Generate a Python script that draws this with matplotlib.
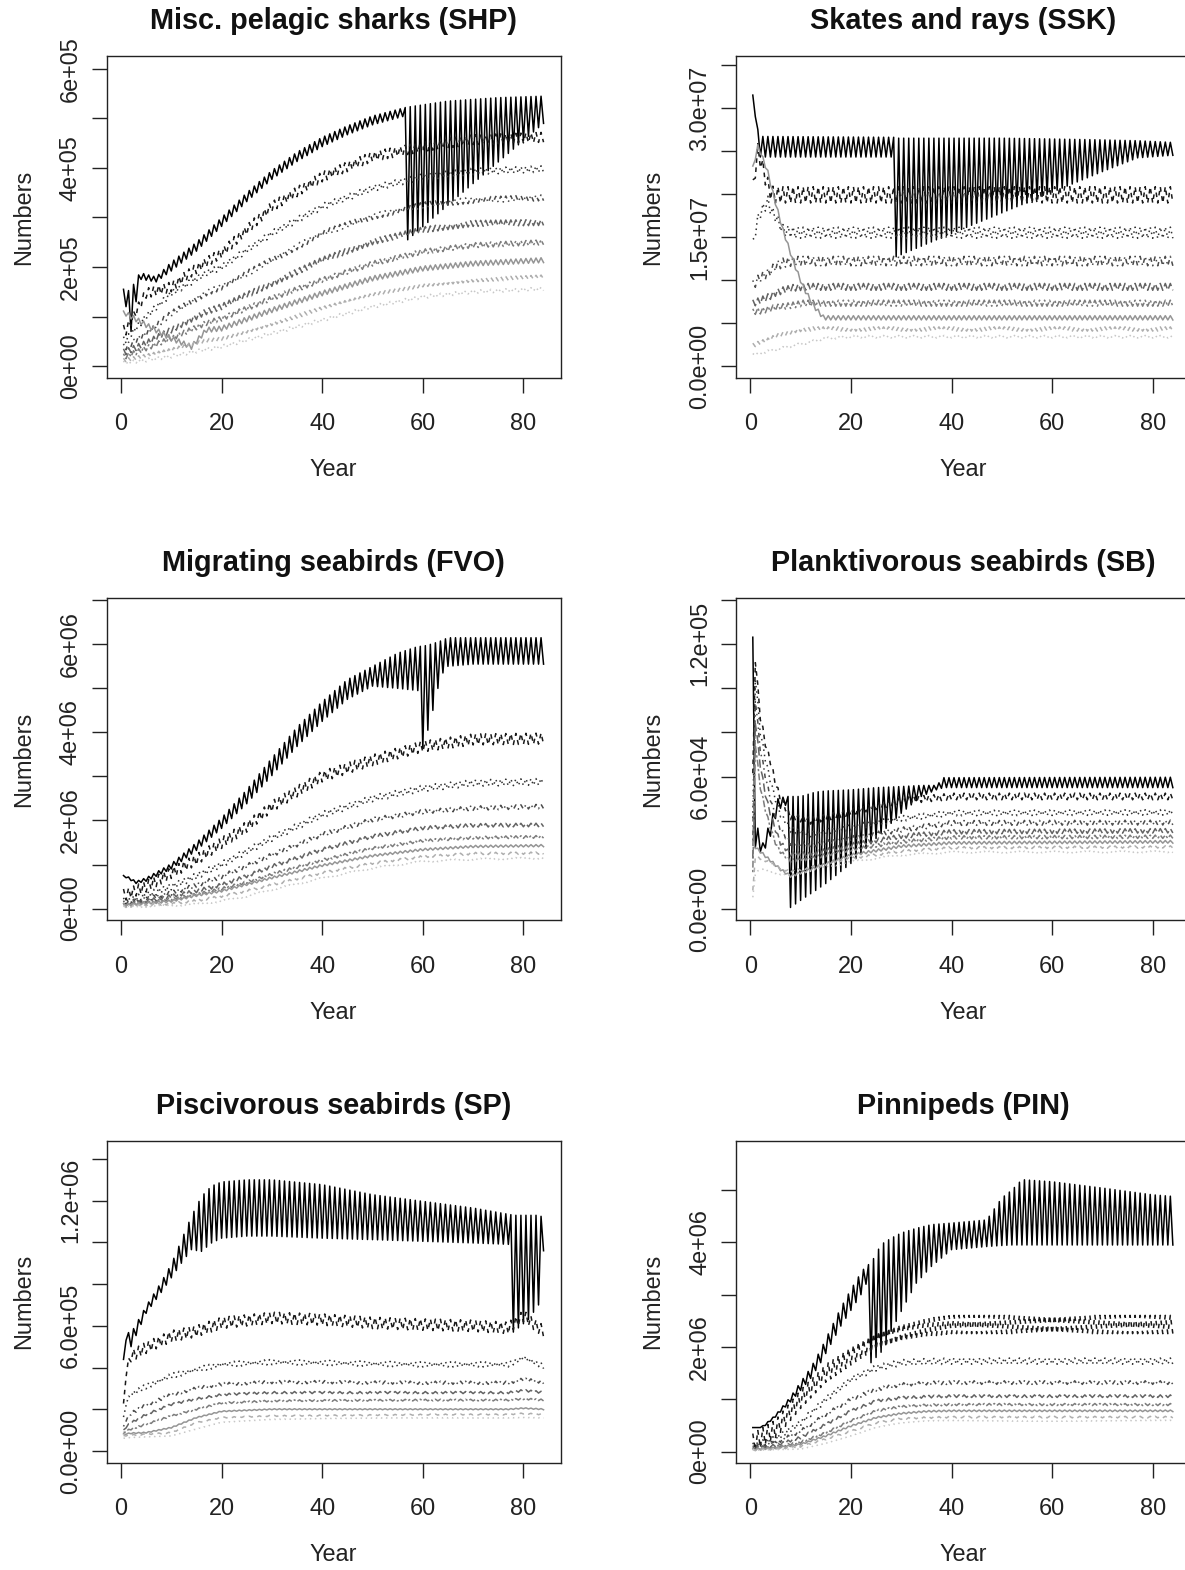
import numpy as np
import matplotlib
matplotlib.use("Agg")
import matplotlib.pyplot as plt

plt.rcParams["font.family"] = ["Liberation Sans", "DejaVu Sans"]

# model output every half year: peaks on the half years, troughs on whole years
STEP_YEAR = 0.5 * np.arange(1, 169)

# ── Misc. pelagic sharks (SHP), numbers in 1e5 ────────────────────────────────
SHP_TOP_YR = [1, 2, 3, 4, 7, 10, 15, 20, 25, 30, 35, 40, 45, 50, 56.5, 57, 65, 75, 84]
SHP_TOP_HI = [1.55, 1.5, 1.8, 1.88, 1.8, 2.1, 2.5, 3.0, 3.5, 3.95, 4.32, 4.62, 4.85, 5.05, 5.22, 5.23, 5.35, 5.42, 5.45]
SHP_TOP_LO = [1.2, 0.7, 1.3, 1.75, 1.7, 1.92, 2.32, 2.82, 3.32, 3.77, 4.13, 4.43, 4.67, 4.87, 5.05, 2.55, 3.25, 4.12, 4.9]
SHP_YR = [1, 5, 10, 14, 17, 20, 30, 40, 50, 60, 70, 84]
SHP_MID = [
    [0.73, 1.47, 1.6, 1.9, 2.1, 2.28, 3.22, 3.82, 4.23, 4.43, 4.57, 4.62],
    [0.53, 1.0, 1.47, 1.7, 1.88, 2.0, 2.68, 3.22, 3.59, 3.82, 3.93, 3.98],
    [0.39, 0.66, 1.06, 1.3, 1.48, 1.6, 2.14, 2.68, 3.02, 3.25, 3.35, 3.4],
    [0.29, 0.46, 0.73, 0.95, 1.1, 1.2, 1.67, 2.14, 2.51, 2.75, 2.88, 2.9],
    [0.2, 0.36, 0.56, 0.74, 0.87, 0.96, 1.37, 1.74, 2.07, 2.31, 2.44, 2.5],
    [1.06, 0.83, 0.56, 0.39, 0.73, 0.76, 1.13, 1.47, 1.77, 1.97, 2.07, 2.14],
    [0.12, 0.2, 0.32, 0.43, 0.51, 0.56, 0.86, 1.16, 1.43, 1.64, 1.74, 1.8],
    [0.07, 0.12, 0.2, 0.28, 0.34, 0.39, 0.66, 0.93, 1.2, 1.4, 1.5, 1.56],
]
SHP_SWING = [0.2, 0.13, 0.12, 0.12, 0.1, 0.1, 0.08, 0.07]

# ── Skates and rays (SSK), numbers in 1e7 ─────────────────────────────────────
SSK_TOP_YR = [0.5, 1, 1.5, 2, 28.5, 29, 40, 50, 60, 70, 77, 84]
SSK_TOP_HI = [3.15, 2.95, 2.75, 2.67, 2.66, 2.65, 2.65, 2.65, 2.64, 2.63, 2.62, 2.6]
SSK_TOP_LO = [3.15, 2.9, 2.6, 2.43, 2.43, 1.27, 1.54, 1.78, 2.02, 2.26, 2.42, 2.45]
SSK_YR = [0.5, 1.5, 2, 3.5, 4.2, 5, 6.5, 8.7, 10.5, 12.7, 14.6, 20, 84]
SSK_MID = [
    [2.07, 2.49, 2.4, 2.1, 2.0, 1.99, 1.99, 1.99, 1.99, 1.99, 1.99, 1.99, 1.99],
    [1.41, 1.7, 1.78, 1.91, 1.8, 1.74, 1.58, 1.55, 1.55, 1.55, 1.55, 1.55, 1.55],
    [0.94, 1.0, 1.03, 1.08, 1.11, 1.16, 1.2, 1.22, 1.22, 1.22, 1.22, 1.22, 1.22],
    [0.73, 0.75, 0.76, 0.8, 0.82, 0.85, 0.88, 0.91, 0.92, 0.92, 0.92, 0.92, 0.92],
    [0.63, 0.64, 0.64, 0.66, 0.67, 0.68, 0.69, 0.71, 0.73, 0.73, 0.73, 0.73, 0.73],
    [2.3, 2.55, 2.49, 2.25, 2.08, 1.9, 1.58, 1.19, 0.92, 0.69, 0.56, 0.56, 0.56],
    [0.24, 0.26, 0.27, 0.3, 0.32, 0.34, 0.37, 0.41, 0.43, 0.43, 0.43, 0.43, 0.43],
    [0.13, 0.14, 0.15, 0.17, 0.18, 0.19, 0.21, 0.24, 0.26, 0.29, 0.32, 0.34, 0.34],
]
SSK_SWING = [0.19, 0.13, 0.11, 0.08, 0.07, 0.05, 0.05, 0.03]

# ── Migrating seabirds (FVO), numbers in 1e6 ──────────────────────────────────
FVO_TOP_YR = [1, 3, 5, 10, 15, 20, 25, 30, 35, 40, 45, 50, 55, 59, 60, 61, 62, 63, 64, 65, 70, 84]
FVO_TOP_HI = [0.75, 0.62, 0.7, 1.02, 1.5, 2.06, 2.7, 3.42, 4.12, 4.7, 5.2, 5.5, 5.8, 5.95, 5.96, 5.98, 6.02, 6.05, 6.1, 6.15, 6.15, 6.15]
FVO_TOP_LO = [0.7, 0.57, 0.62, 0.9, 1.32, 1.82, 2.38, 3.02, 3.68, 4.25, 4.75, 5.05, 5.0, 4.95, 3.64, 4.05, 4.5, 5.0, 5.35, 5.5, 5.55, 5.55]
FVO_YR = [1, 5, 10, 15, 20, 25, 30, 40, 50, 60, 70, 84]
FVO_MID = [
    [0.32, 0.5, 0.81, 1.11, 1.49, 1.86, 2.32, 3.0, 3.37, 3.68, 3.84, 3.86],
    [0.17, 0.3, 0.5, 0.74, 1.0, 1.3, 1.6, 2.13, 2.5, 2.73, 2.85, 2.88],
    [0.13, 0.22, 0.35, 0.53, 0.73, 0.97, 1.22, 1.68, 2.02, 2.2, 2.28, 2.32],
    [0.09, 0.17, 0.28, 0.4, 0.54, 0.74, 0.96, 1.34, 1.64, 1.83, 1.89, 1.9],
    [0.08, 0.13, 0.22, 0.32, 0.45, 0.6, 0.78, 1.1, 1.37, 1.54, 1.61, 1.63],
    [0.09, 0.12, 0.17, 0.3, 0.4, 0.55, 0.7, 0.98, 1.2, 1.34, 1.41, 1.43],
    [0.05, 0.08, 0.11, 0.18, 0.28, 0.4, 0.54, 0.81, 1.03, 1.18, 1.25, 1.26],
    [0.04, 0.05, 0.07, 0.1, 0.17, 0.28, 0.43, 0.69, 0.92, 1.07, 1.12, 1.15],
]
FVO_SWING = [0.25, 0.15, 0.1, 0.08, 0.06, 0.05, 0.05, 0.04]

# ── Planktivorous seabirds (SB), numbers in 1e4 ───────────────────────────────
SB_TOP_YR = [0.5, 1, 2.5, 4, 5.5, 7, 7.5, 10, 13, 15, 20, 25, 30, 34, 37, 38.5, 84]
SB_TOP_HI = [12.3, 4.0, 3.0, 4.0, 5.0, 5.1, 5.1, 5.1, 5.3, 5.35, 5.4, 5.5, 5.55, 5.6, 5.6, 5.95, 5.97]
SB_TOP_LO = [12.3, 2.8, 2.5, 3.3, 4.5, 4.7, 0.0, 0.4, 0.85, 1.16, 2.07, 3.2, 4.34, 5.1, 5.4, 5.5, 5.5]
SB_YR = [0.5, 1, 2, 3, 4, 5, 6, 8, 12, 20, 30, 40, 84]
SB_MID = [
    [6.0, 11.3, 8.7, 7.5, 6.7, 5.7, 5.0, 4.2, 4.0, 4.4, 4.9, 5.1, 5.1],
    [4.0, 10.5, 8.0, 6.8, 5.8, 5.0, 4.3, 3.6, 3.4, 3.7, 4.1, 4.35, 4.38],
    [3.0, 9.5, 7.2, 6.0, 5.0, 4.2, 3.6, 3.0, 2.9, 3.2, 3.6, 3.9, 3.92],
    [2.2, 8.5, 6.5, 5.2, 4.3, 3.6, 3.0, 2.5, 2.5, 2.9, 3.3, 3.5, 3.55],
    [1.6, 7.5, 5.5, 4.5, 3.7, 3.0, 2.6, 2.2, 2.3, 2.7, 3.05, 3.25, 3.28],
    [3.0, 2.8, 2.6, 2.4, 2.2, 2.0, 1.8, 1.5, 1.8, 2.45, 2.85, 3.0, 3.05],
    [0.8, 2.4, 2.3, 2.2, 2.1, 1.95, 1.85, 1.7, 1.9, 2.3, 2.62, 2.78, 2.82],
    [0.5, 1.6, 1.8, 1.75, 1.7, 1.65, 1.6, 1.55, 1.75, 2.15, 2.45, 2.58, 2.6],
]
SB_SWING = [0.3, 0.25, 0.22, 0.2, 0.15, 0.12, 0.1, 0.08]

# ── Piscivorous seabirds (SP), numbers in 1e5 ─────────────────────────────────
SP_TOP_YR = [0.5, 1, 2, 5, 8, 10, 12, 14, 16, 18, 20, 25, 30, 40, 50, 60, 70, 77.5, 78, 81, 83, 84]
SP_TOP_HI = [4.39, 5.7, 5.65, 6.95, 8.1, 8.95, 10.1, 11.25, 12.2, 12.7, 12.9, 13.0, 13.0, 12.77, 12.29, 11.97, 11.65, 11.33, 11.3, 11.3, 11.3, 11.2]
SP_TOP_LO = [4.39, 5.3, 5.0, 6.6, 7.6, 8.3, 9.0, 9.65, 9.57, 9.97, 10.2, 10.3, 10.3, 10.2, 10.13, 10.05, 9.97, 9.9, 5.7, 6.3, 7.0, 9.6]
SP_YR = [0.5, 1, 2, 5, 10, 15, 20, 30, 40, 50, 60, 70, 77, 80, 84]
SP_MID = [
    [2.0, 3.8, 4.55, 4.95, 5.5, 5.74, 6.14, 6.38, 6.3, 6.14, 6.06, 6.0, 5.9, 6.46, 5.74],
    [1.5, 2.3, 2.7, 3.1, 3.6, 3.9, 4.15, 4.26, 4.23, 4.18, 4.15, 4.15, 4.15, 4.47, 4.07],
    [1.1, 1.5, 1.8, 2.2, 2.7, 3.0, 3.2, 3.3, 3.3, 3.28, 3.27, 3.27, 3.27, 3.43, 3.3],
    [0.96, 1.15, 1.35, 1.75, 2.23, 2.5, 2.7, 2.8, 2.8, 2.8, 2.8, 2.8, 2.8, 2.9, 2.8],
    [0.85, 0.95, 1.05, 1.28, 1.68, 2.0, 2.3, 2.4, 2.42, 2.43, 2.44, 2.44, 2.44, 2.5, 2.44],
    [0.8, 0.82, 0.85, 0.88, 1.12, 1.6, 1.9, 2.0, 2.0, 2.0, 2.0, 2.0, 2.0, 2.05, 2.0],
    [0.72, 0.74, 0.76, 0.8, 0.88, 1.36, 1.6, 1.68, 1.7, 1.72, 1.74, 1.75, 1.75, 1.8, 1.75],
    [0.6, 0.62, 0.64, 0.67, 0.72, 1.04, 1.36, 1.5, 1.55, 1.58, 1.6, 1.6, 1.6, 1.62, 1.6],
]
SP_SWING = [0.55, 0.25, 0.15, 0.1, 0.08, 0.05, 0.05, 0.04]

# ── Pinnipeds (PIN), numbers in 1e6 ───────────────────────────────────────────
PIN_TOP_YR = [0.5, 2, 3, 5, 8, 10, 12, 14, 16, 18, 20, 22, 23, 24, 26, 28, 30, 33, 36, 40, 47, 50, 52, 54, 60, 70, 80, 84]
PIN_TOP_HI = [0.46, 0.46, 0.53, 0.7, 1.05, 1.33, 1.6, 1.95, 2.35, 2.75, 3.1, 3.42, 3.55, 3.6, 3.96, 4.08, 4.18, 4.27, 4.34, 4.37, 4.43, 4.85, 5.0, 5.2, 5.16, 5.04, 4.91, 4.88]
PIN_TOP_LO = [0.46, 0.46, 0.5, 0.66, 0.95, 1.17, 1.4, 1.7, 2.05, 2.4, 2.7, 3.0, 3.2, 1.7, 1.9, 2.3, 2.68, 3.22, 3.54, 3.86, 3.92, 3.94, 3.95, 3.95, 3.95, 3.95, 3.95, 3.95]
PIN_YR = [0.5, 5, 10, 15, 20, 25, 30, 35, 40, 84]
PIN_MID = [
    [0.17, 0.43, 1.0, 1.5, 1.83, 2.11, 2.27, 2.37, 2.43, 2.43],
    [0.11, 0.24, 0.55, 1.0, 1.38, 1.6, 1.7, 1.72, 1.73, 1.73],
    [0.08, 0.17, 0.39, 0.71, 1.0, 1.19, 1.28, 1.31, 1.32, 1.32],
    [0.06, 0.12, 0.27, 0.52, 0.78, 0.97, 1.03, 1.05, 1.06, 1.06],
    [0.04, 0.09, 0.18, 0.36, 0.59, 0.78, 0.86, 0.89, 0.9, 0.9],
    [0.04, 0.07, 0.14, 0.3, 0.49, 0.65, 0.73, 0.77, 0.78, 0.78],
    [0.03, 0.05, 0.1, 0.24, 0.39, 0.55, 0.63, 0.65, 0.66, 0.66],
    [0.025, 0.03, 0.04, 0.16, 0.31, 0.46, 0.54, 0.58, 0.59, 0.59],
]
PIN_SWING = [0.35, 0.12, 0.07, 0.05, 0.04, 0.03, 0.03, 0.02]

# axis ticks and labels for each group
SHP_TICKS = [0, 1e5, 2e5, 3e5, 4e5, 5e5, 6e5]
SHP_LABELS = ["0e+00", "", "2e+05", "", "4e+05", "", "6e+05"]
SSK_TICKS = [0, 5e6, 1e7, 1.5e7, 2e7, 2.5e7, 3e7, 3.5e7]
SSK_LABELS = ["0.0e+00", "", "", "1.5e+07", "", "", "3.0e+07", ""]
FVO_TICKS = [0, 1e6, 2e6, 3e6, 4e6, 5e6, 6e6, 7e6]
FVO_LABELS = ["0e+00", "", "2e+06", "", "4e+06", "", "6e+06", ""]
SB_TICKS = [0, 2e4, 4e4, 6e4, 8e4, 1e5, 1.2e5, 1.4e5]
SB_LABELS = ["0.0e+00", "", "", "6.0e+04", "", "", "1.2e+05", ""]
SP_TICKS = [0, 2e5, 4e5, 6e5, 8e5, 1e6, 1.2e6, 1.4e6]
SP_LABELS = ["0.0e+00", "", "", "6.0e+05", "", "", "1.2e+06", ""]
PIN_TICKS = [0, 1e6, 2e6, 3e6, 4e6, 5e6]
PIN_LABELS = ["0e+00", "", "2e+06", "", "4e+06", ""]
YEAR_TICKS = [0, 20, 40, 60, 80]


def step_series(years, hi, lo):
    trough = np.arange(1, len(STEP_YEAR) + 1) % 2 == 0
    return np.where(trough, np.interp(STEP_YEAR, years, lo), np.interp(STEP_YEAR, years, hi))


def class_series(years, mid, swing):
    trough = np.arange(1, len(STEP_YEAR) + 1) % 2 == 0
    return np.interp(STEP_YEAR, years, mid) + np.where(trough, -swing / 2, swing / 2)


panels = [
    ("Misc. pelagic sharks (SHP)", 1e5, SHP_TOP_YR, SHP_TOP_HI, SHP_TOP_LO, SHP_YR, SHP_MID, SHP_SWING,
     SHP_TICKS, SHP_LABELS, (-24000, 626000)),
    ("Skates and rays (SSK)", 1e7, SSK_TOP_YR, SSK_TOP_HI, SSK_TOP_LO, SSK_YR, SSK_MID, SSK_SWING,
     SSK_TICKS, SSK_LABELS, (-1.4e6, 3.605e7)),
    ("Migrating seabirds (FVO)", 1e6, FVO_TOP_YR, FVO_TOP_HI, FVO_TOP_LO, FVO_YR, FVO_MID, FVO_SWING,
     FVO_TICKS, FVO_LABELS, (-2.66e5, 7.045e6)),
    ("Planktivorous seabirds (SB)", 1e4, SB_TOP_YR, SB_TOP_HI, SB_TOP_LO, SB_YR, SB_MID, SB_SWING,
     SB_TICKS, SB_LABELS, (-5000, 1.406e5)),
    ("Piscivorous seabirds (SP)", 1e5, SP_TOP_YR, SP_TOP_HI, SP_TOP_LO, SP_YR, SP_MID, SP_SWING,
     SP_TICKS, SP_LABELS, (-5.58e4, 1.488e6)),
    ("Pinnipeds (PIN)", 1e6, PIN_TOP_YR, PIN_TOP_HI, PIN_TOP_LO, PIN_YR, PIN_MID, PIN_SWING,
     PIN_TICKS, PIN_LABELS, (-2.1e5, 5.946e6)),
]

# R-style line types, recycled over the age classes
LTYS = ["-", (0, (3, 3)), (0, (1, 2.5)), (0, (1, 2.5, 3, 2.5)), (0, (5.5, 2.5)), (0, (1.5, 1.5, 4.5, 1.5))]
GREYS = np.linspace(0.0, 0.78, 9)

W, H = 1185, 1570
fig = plt.figure(figsize=(W / 100, H / 100), dpi=100)

BOX_W, BOX_H = 453.8, 322.0
COL_LEFT = [106.7, 736.0]
ROW_TOP = [56.0, 598.3, 1140.6]
FS = 16.9

for i, (title, unit, tyr, thi, tlo, yrs, mids, swings, yticks, ylabels, ylim) in enumerate(panels):
    left = COL_LEFT[i % 2]
    top = ROW_TOP[i // 2]
    ax = fig.add_axes([left / W, 1 - (top + BOX_H) / H, BOX_W / W, BOX_H / H])

    series = [step_series(tyr, np.array(thi) * unit, np.array(tlo) * unit)]
    for m, s in zip(mids, swings):
        series.append(class_series(yrs, np.array(m) * unit, s * unit))

    for k, y in enumerate(series):
        g = GREYS[k]
        ax.plot(STEP_YEAR, y, color=(g, g, g), lw=1.1, linestyle=LTYS[k % 6], zorder=2 + k)

    ax.set_xlim(-2.84, 87.37)
    ax.set_ylim(*ylim)
    ax.set_xticks(YEAR_TICKS)
    ax.set_xticklabels([str(v) for v in YEAR_TICKS], fontsize=FS)
    ax.set_yticks(yticks)
    ax.set_yticklabels(ylabels, fontsize=FS, rotation=90, va="center")
    ax.tick_params(axis="both", length=10.8, width=1.0, color="#222222", labelcolor="#222222")
    ax.tick_params(axis="x", pad=14)
    ax.tick_params(axis="y", pad=7)
    for sp in ax.spines.values():
        sp.set_linewidth(1.0)
        sp.set_color("#222222")

    ax.set_xlabel("Year", fontsize=FS, color="#222222", va="center")
    ax.xaxis.set_label_coords(0.5, -92 / BOX_H)
    ax.set_ylabel("Numbers", fontsize=FS, color="#222222", va="center")
    ax.yaxis.set_label_coords(-83 / BOX_W, 0.5)
    ax.text(0.5, 1 + 35 / BOX_H, title, transform=ax.transAxes, ha="center", va="center",
            fontsize=20.8, fontweight="bold", color="#111111")

fig.savefig("out.png", dpi=100)
